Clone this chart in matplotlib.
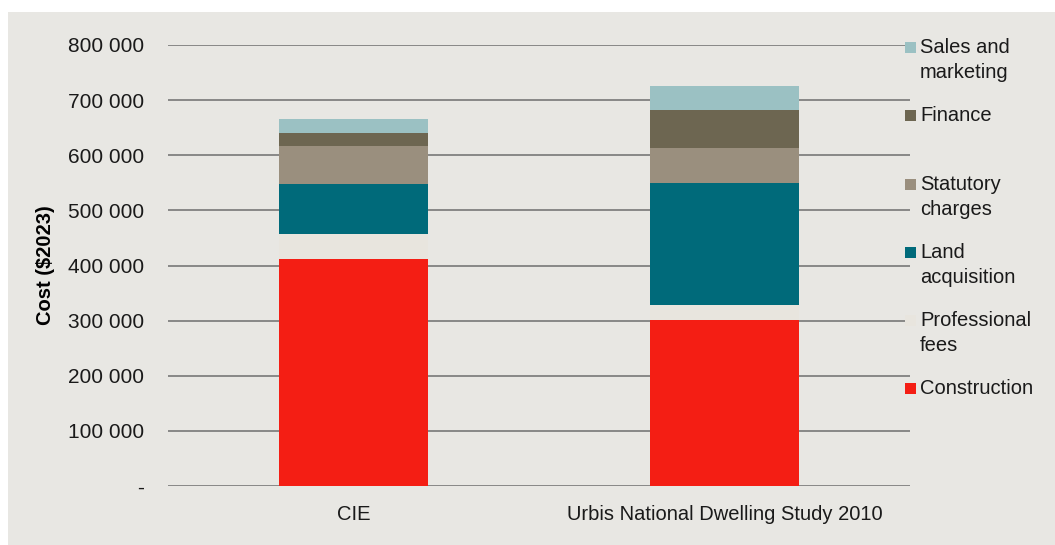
import matplotlib
matplotlib.use("Agg")
import matplotlib.pyplot as plt
from matplotlib.patches import Rectangle
import numpy as np

plt.rcParams['font.family'] = ['Liberation Sans', 'DejaVu Sans']

categories = ["CIE", "Urbis National Dwelling Study 2010"]
series_names = ["Construction", "Professional\nfees", "Land\nacquisition",
                "Statutory\ncharges", "Finance", "Sales and\nmarketing"]
construction = [411000, 302000]
professional_fees = [47000, 26000]
land_acquisition = [90000, 222000]
statutory_charges = [69000, 63500]
finance = [24000, 69000]
sales_marketing = [24000, 43000]
colors = ["#F41E14", "#E8E5DE", "#006A7A", "#9A8F7E", "#6D6651", "#9BC1C3"]
yticks = [0, 100000, 200000, 300000, 400000, 500000, 600000, 700000, 800000]
ytick_labels = ["-", "100 000", "200 000", "300 000", "400 000", "500 000",
                "600 000", "700 000", "800 000"]

series = [construction, professional_fees, land_acquisition,
          statutory_charges, finance, sales_marketing]

W, H = 1055, 545
fig = plt.figure(figsize=(W / 100, H / 100), dpi=100)
fig.patch.set_facecolor("white")
bg = "#E8E7E3"
bgax = fig.add_axes([8 / W, 0, 1 - 8 / W, 1 - 12 / H])
bgax.set_facecolor(bg)
bgax.set_xticks([])
bgax.set_yticks([])
for s in bgax.spines.values():
    s.set_visible(False)
bgax.set_zorder(0)

ax = fig.add_axes([168 / W, 1 - 486 / H, (910 - 168) / W, (486 - 45) / H])
ax.set_zorder(2)
ax.patch.set_alpha(0)

x = np.arange(len(categories))
bottom = np.zeros(len(categories))
for vals, c in zip(series, colors):
    ax.bar(x, vals, width=0.40, bottom=bottom, color=c, edgecolor="none", zorder=3)
    bottom += np.array(vals)

ax.set_xlim(-0.5, 1.5)
ax.set_ylim(0, 800000)
ax.set_yticks(yticks)
ax.set_yticklabels(ytick_labels, fontsize=15)
ax.set_xticks(x)
ax.set_xticklabels(categories, fontsize=14.5)
ax.tick_params(axis="both", length=0, colors="#1a1a1a")
ax.tick_params(axis="y", pad=17)
ax.tick_params(axis="x", pad=14)
ax.yaxis.grid(True, color="#6e6e6e", linewidth=1.1, zorder=1)
ax.set_axisbelow(True)
for s in ax.spines.values():
    s.set_visible(False)
ax.set_ylabel("Cost ($2023)", fontsize=14.5, fontweight="bold")
ax.yaxis.set_label_coords(-(168 - 55) / (910 - 168), 0.5)

# legend (manual placement, Excel style)
leg_y = [48, 116, 185, 253, 321, 389]  # first-line centres, pixels from top
order = [5, 4, 3, 2, 1, 0]
for yp, i in zip(leg_y, order):
    fig.patches.append(Rectangle((905 / W, 1 - (yp + 5) / H), 11 / W, 11 / H,
                                 transform=fig.transFigure, facecolor=colors[i],
                                 edgecolor="none", zorder=5))
    fig.text(920 / W, 1 - (yp - 10) / H, series_names[i], fontsize=14.5, va="top",
             ha="left", color="#1a1a1a", linespacing=1.4, zorder=6)

fig.savefig("out.png", dpi=100, facecolor=fig.get_facecolor())
